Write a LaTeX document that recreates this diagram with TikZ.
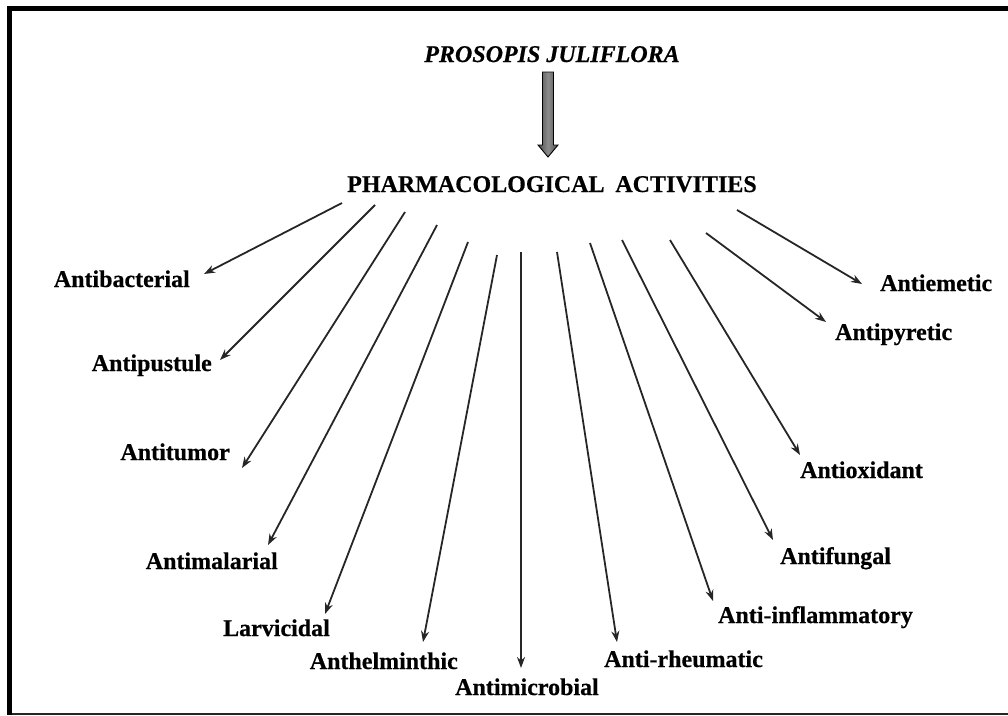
\documentclass[tikz,border=0pt]{standalone}
\usepackage{fontspec}
\setmainfont{Liberation Serif}[BoldFeatures={FakeBold=0.5},BoldItalicFeatures={FakeBold=0.5}]
\usetikzlibrary{arrows.meta}
\begin{document}
\begin{tikzpicture}[x=1pt,y=-1pt,
  lbl/.style={font=\fontsize{24}{28}\selectfont\bfseries, inner sep=0pt, anchor=base},
  lblw/.style={lbl, anchor=base west},
  lble/.style={lbl, anchor=base east},
  act/.style={draw=black!85, line width=1.8pt, -{Stealth[length=11pt,width=8pt]}}]
\useasboundingbox (0,0) rectangle (1008,715);
% frame
\fill[black] (7,6) rectangle (1008,11);
\fill[black] (7,6) rectangle (12,715);
\fill[black!85] (12,712.5) rectangle (1008,715);
% title
\node[lbl, font=\fontsize{24}{28}\selectfont\bfseries\itshape] (title) at (552,62) {PROSOPIS JULIFLORA};
% thick arrow
\draw[line width=0.9pt, left color=black!70, right color=black!70, middle color=black!45]
  (542.5,72) -- (553.5,72) -- (553.5,145) -- (558,145) -- (548,157) -- (538,145) -- (542.5,145) -- cycle;
\node[lbl] (pharm) at (552,192) {PHARMACOLOGICAL\hspace{0.45em}ACTIVITIES};
% labels
\node[lble] (l1) at (190,287) {Antibacterial};
\node[lble] (l2) at (212,371) {Antipustule};
\node[lble] (l3) at (230,460) {Antitumor};
\node[lble] (l4) at (278,569) {Antimalarial};
\node[lble] (l5) at (330,636) {Larvicidal};
\node[lble] (l6) at (458,669) {Anthelminthic};
\node[lbl]  (l7) at (527,695) {Antimicrobial};
\node[lblw] (l8) at (604,667) {Anti-rheumatic};
\node[lblw] (l9) at (718,623) {Anti-inflammatory};
\node[lblw] (l10) at (780,564) {Antifungal};
\node[lblw] (l11) at (800,478) {Antioxidant};
\node[lblw] (l12) at (835,340) {Antipyretic};
\node[lblw] (l13) at (880,291) {Antiemetic};
% arrow endpoints
\coordinate (s1) at (342,203);  \coordinate (t1) at (204,274);
\coordinate (s2) at (375,205);  \coordinate (t2) at (220,360);
\coordinate (s3) at (405,212);  \coordinate (t3) at (242,468);
\coordinate (s4) at (437,225);  \coordinate (t4) at (268,545);
\coordinate (s5) at (468,242);  \coordinate (t5) at (325,614);
\coordinate (s6) at (497,255);  \coordinate (t6) at (423,642);
\coordinate (s7) at (521,252);  \coordinate (t7) at (521,668);
\coordinate (s8) at (557,252);  \coordinate (t8) at (617,642);
\coordinate (s9) at (590,243);  \coordinate (t9) at (713,601);
\coordinate (s10) at (622,240); \coordinate (t10) at (773,540);
\coordinate (s11) at (670,240); \coordinate (t11) at (800,455);
\coordinate (s12) at (706,233); \coordinate (t12) at (826,322);
\coordinate (s13) at (737,210); \coordinate (t13) at (862,284);
\foreach \i in {1,...,13} { \draw[act] (s\i) -- (t\i); }
\end{tikzpicture}
\end{document}
